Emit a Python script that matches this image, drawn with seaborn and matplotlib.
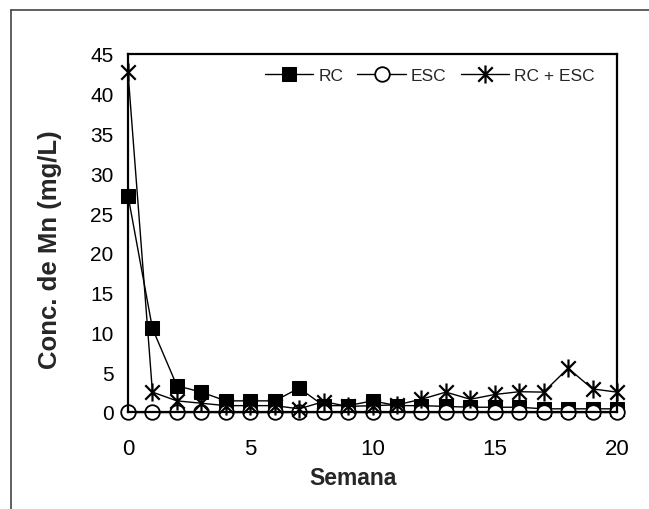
import numpy as np
import pandas as pd
import matplotlib
matplotlib.use("Agg")
import matplotlib.pyplot as plt
from matplotlib.path import Path
from matplotlib.lines import Line2D
import seaborn as sns

semana = list(range(21))
rc = [27.2, 10.5, 3.3, 2.5, 1.4, 1.4, 1.4, 3.0, 0.8, 0.8, 1.4, 0.8, 0.8,
      0.7, 0.6, 0.6, 0.6, 0.4, 0.4, 0.4, 0.4]
esc = [0.05] * 21
rc_esc = [42.7, 2.5, 1.4, 1.1, 0.8, 0.8, 0.8, 0.4, 1.3, 0.7, 0.8, 0.9, 1.6,
          2.5, 1.6, 2.2, 2.55, 2.5, 5.5, 2.9, 2.5]
series_names = ["RC", "ESC", "RC + ESC"]
x_ticks = [0, 5, 10, 15, 20]
y_ticks = [0, 5, 10, 15, 20, 25, 30, 35, 40, 45]

sns.set_theme(style="white")
plt.rcParams["font.family"] = ["Liberation Sans", "DejaVu Sans"]

# asterisk-style marker: vertical bar plus an X
star = Path([(0, -1), (0, 1), (-0.8, -0.8), (0.8, 0.8), (-0.8, 0.8), (0.8, -0.8)],
            [Path.MOVETO, Path.LINETO, Path.MOVETO, Path.LINETO, Path.MOVETO, Path.LINETO])

fig = plt.figure(figsize=(6.49, 5.10), dpi=100)
ax = fig.add_axes([128 / 649, 1 - 413 / 510, (617 - 128) / 649, (413 - 55) / 510])

df = pd.DataFrame({"Semana": semana, "RC": rc, "ESC": esc, "RC + ESC": rc_esc})

styles = {
    "RC": dict(marker="s", markersize=10.5, markerfacecolor="black", markeredgecolor="black"),
    "ESC": dict(marker="o", markersize=10.5, markerfacecolor="white", markeredgecolor="black",
                markeredgewidth=1.3),
    "RC + ESC": dict(marker=star, markersize=13, markeredgecolor="black", markeredgewidth=1.6),
}
for name in series_names:
    sns.lineplot(data=df, x="Semana", y=name, ax=ax, color="black", linewidth=1.0,
                 clip_on=False, label=name, **styles[name])

ax.set_xlim(0, 20)
ax.set_ylim(0, 45)
ax.set_xticks(x_ticks)
ax.set_yticks(y_ticks)
ax.tick_params(axis="y", which="major", labelsize=15, direction="out", length=7,
               width=1.2, color="black", labelcolor="black", pad=3.5)
ax.tick_params(axis="x", which="major", labelsize=16, length=0, pad=19,
               labelcolor="black")
for s in ax.spines.values():
    s.set_visible(True)
    s.set_color("black")
    s.set_linewidth(1.6)

ax.set_xlabel("Semana", fontsize=16.5, fontweight="bold")
ax.set_ylabel("Conc. de Mn (mg/L)", fontsize=18.5, fontweight="bold")
ax.xaxis.set_label_coords(0.46, -0.152)
ax.yaxis.set_label_coords(-0.135, 0.455)

ax.legend(loc="upper right", ncol=3, frameon=False, fontsize=12.5, handlelength=2.8,
          handletextpad=0.3, columnspacing=0.8, bbox_to_anchor=(0.98, 0.995),
          borderaxespad=0.3)

# outer frame
fig.add_artist(Line2D([10.5 / 649, 10.5 / 649], [0, 1 - 11 / 510], transform=fig.transFigure,
                      color="#444444", linewidth=1.2))
fig.add_artist(Line2D([10.5 / 649, 1], [1 - 11 / 510, 1 - 11 / 510], transform=fig.transFigure,
                      color="#444444", linewidth=1.2))

fig.savefig("out.png", dpi=100, facecolor="white")
